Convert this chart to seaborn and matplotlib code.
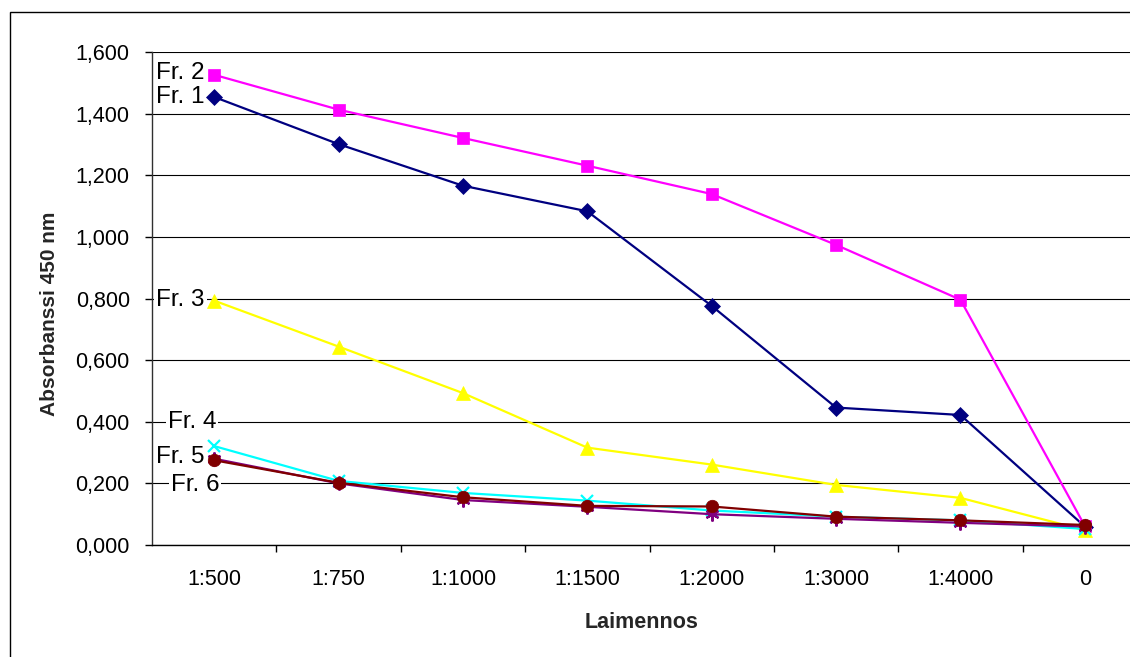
import numpy as np
import pandas as pd
import matplotlib
matplotlib.use("Agg")
import matplotlib.pyplot as plt
from matplotlib.patches import Rectangle
from matplotlib.ticker import FixedLocator, FuncFormatter
import seaborn as sns

categories = ["1:500", "1:750", "1:1000", "1:1500", "1:2000", "1:3000", "1:4000", "0"]
fr1 = [1.454, 1.301, 1.166, 1.083, 0.776, 0.446, 0.422, 0.060]
fr2 = [1.526, 1.413, 1.321, 1.231, 1.139, 0.974, 0.796, 0.062]
fr3 = [0.793, 0.644, 0.493, 0.316, 0.261, 0.195, 0.153, 0.048]
fr4 = [0.321, 0.208, 0.169, 0.144, 0.112, 0.092, 0.080, 0.052]
fr5 = [0.280, 0.200, 0.146, 0.124, 0.100, 0.085, 0.072, 0.060]
fr6 = [0.275, 0.202, 0.155, 0.127, 0.125, 0.092, 0.080, 0.065]
series_names = ["Fr. 1", "Fr. 2", "Fr. 3", "Fr. 4", "Fr. 5", "Fr. 6"]
series_values = [fr1, fr2, fr3, fr4, fr5, fr6]
yticks = [0.0, 0.2, 0.4, 0.6, 0.8, 1.0, 1.2, 1.4, 1.6]

colors = ["#000080", "#FF00FF", "#FFFF00", "#00FFFF", "#800080", "#800000"]
markers = ["D", "s", "^", "x", (6, 2, 0), "o"]
msizes = [8, 9, 10, 9, 10, 9]
# label offsets (points) relative to the first point of each series (text right-aligned)
label_offsets = [(-7, 0), (-7, 1.5), (-7, 0.5), (1.5, 17.5), (-7, 1.5), (3.6, -17.5)]

sns.set_theme(style="white")
plt.rcParams["font.family"] = ["Liberation Sans", "DejaVu Sans"]

fig = plt.figure(figsize=(11.3, 6.57), dpi=100)
ax = fig.add_axes([152 / 1130, 112 / 657, 995 / 1130, 493 / 657])

x = np.arange(len(categories))
for name, vals, c, m, ms in zip(series_names, series_values, colors, markers, msizes):
    df = pd.DataFrame({"x": x, "y": vals})
    sns.lineplot(data=df, x="x", y="y", ax=ax, color=c, marker=m, markersize=ms,
                 markeredgecolor=c, markeredgewidth=1.6 if m in ("x", (6, 2, 0)) else 0.5,
                 linewidth=1.6, legend=False)

ax.set_xlim(-0.5, len(categories) - 0.5)
ax.set_ylim(0, 1.6)
ax.yaxis.set_major_locator(FixedLocator(yticks))
ax.yaxis.set_major_formatter(FuncFormatter(lambda v, p: f"{v:.3f}".replace(".", ",")))
ax.set_xticks(x)
ax.set_xticklabels(categories)
ax.xaxis.set_minor_locator(FixedLocator(np.arange(len(categories) - 1) + 0.5))

ax.tick_params(axis="x", which="major", length=0, pad=17, labelsize=15.5, colors="black")
ax.tick_params(axis="x", which="minor", length=5, width=1, direction="out", color="black", bottom=True)
ax.tick_params(axis="y", which="major", length=5, width=1, direction="out", pad=11,
               labelsize=15.5, colors="black", left=True)

ax.grid(axis="y", color="black", linewidth=0.8)
ax.set_axisbelow(True)
for s in ["top", "right"]:
    ax.spines[s].set_visible(False)
ax.spines["left"].set_color("#303030")
ax.spines["bottom"].set_color("black")
ax.spines["left"].set_linewidth(1)
ax.spines["bottom"].set_linewidth(1)

ax.set_xlabel("Laimennos", fontsize=15.5, fontweight="bold")
ax.set_ylabel("Absorbanssi 450 nm", fontsize=15, fontweight="bold")
ax.xaxis.set_label_coords((642 - 152) / 995, (545 - 622) / 493)
ax.xaxis.label.set_va("center")
ax.yaxis.set_label_coords((50 - 152) / 995, (545 - 314) / 493)
ax.yaxis.label.set_va("center")

for i, (name, vals) in enumerate(zip(series_names, series_values)):
    dx, dy = label_offsets[i]
    bbox = None
    if i in (2, 3, 5):
        bbox = dict(facecolor="white", edgecolor="none", pad=1.5)
    ax.annotate(name, xy=(0, vals[0]), xytext=(dx, dy), textcoords="offset points",
                ha="right", va="center", fontsize=17.5,
                color="black", bbox=bbox, annotation_clip=False)

fig.patches.append(Rectangle((10 / 1130, -0.1), 1.2, (657 - 12) / 657 + 0.1,
                             transform=fig.transFigure, fill=False, edgecolor="black",
                             linewidth=1))

fig.savefig("out.png", dpi=100)
